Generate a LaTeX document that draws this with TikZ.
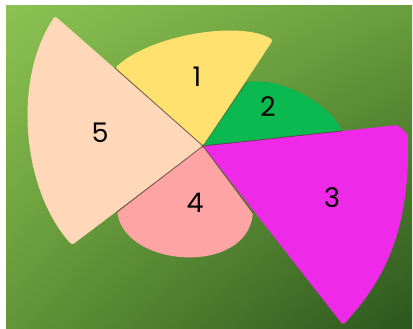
\documentclass[tikz,border=0pt]{standalone}
\usepackage{fontspec}
\setmainfont{Poppins}
\usetikzlibrary{shadings}
\definecolor{bgTL}{RGB}{140,194,82}
\definecolor{bgTR}{RGB}{104,158,60}
\definecolor{bgBL}{RGB}{98,150,56}
\definecolor{bgBR}{RGB}{44,86,30}
\definecolor{sYellow}{RGB}{255,225,112}
\definecolor{sGreen}{RGB}{12,184,80}
\definecolor{sMagenta}{RGB}{238,42,232}
\definecolor{sPink}{RGB}{255,164,164}
\definecolor{sPeach}{RGB}{255,216,186}
\definecolor{edgeCol}{RGB}{90,62,62}
\tikzset{
  sector/.style={draw=none, rounded corners=2.5pt},
  radial/.style={draw=edgeCol, line width=0.9pt, opacity=0.75},
  lab/.style={font=\fontsize{27}{27}\selectfont, text=black, inner sep=0pt}
}
\begin{document}
\begin{tikzpicture}[x=1pt,y=-1pt]
\useasboundingbox (0,0) rectangle (413,329);
\fill[white] (0,0) rectangle (413,329);
\shade[upper left=bgTL, upper right=bgTR, lower left=bgBL, lower right=bgBR] (6,6) rectangle (412,328);

\coordinate (C) at (203,146);
% sector ends
\coordinate (e5a) at (72,245);
\coordinate (e5b) at (55,16);
\coordinate (e1a) at (115,68);
\coordinate (e1b) at (273,40);
\coordinate (e2a) at (247,82);
\coordinate (e2b) at (342,131);
\coordinate (e3a) at (398,125);
\coordinate (e3b) at (343,325);
\coordinate (e4a) at (117,212);
\coordinate (e4b) at (253,213);

% sector 4
\fill[sPink, sector] (C) -- (e4a) .. controls (128,268) and (245,275) .. (e4b) -- cycle;
% sector 1
\fill[sYellow, sector] (C) -- (e1a) .. controls (150,35) and (240,20) .. (e1b) -- cycle;
% sector 2
\fill[sGreen, sector] (C) -- (e2a) .. controls (285,78) and (330,105) .. (e2b) -- cycle;
% sector 5
\fill[sPeach, sector] (C) -- (e5a) .. controls (22,190) and (12,80) .. (e5b) -- cycle;
% sector 3
\fill[sMagenta, sector] (C) -- (e3a) -- (408,135) .. controls (410,230) and (385,280) .. (e3b) -- cycle;

% radial edges
\draw[radial] (C) -- (e1a);
\draw[radial] (C) -- (e4a);
\draw[radial] (C) -- (e2b);
\draw[radial] (C) -- (e4b);
\draw[radial, opacity=0.4] (C) -- (e2a);

% labels
\node[lab] (l1) at (197,77) {1};
\node[lab] (l2) at (268,107) {2};
\node[lab] (l3) at (332,198) {3};
\node[lab] (l4) at (195,203) {4};
\node[lab] (l5) at (100,133) {5};
\end{tikzpicture}
\end{document}
